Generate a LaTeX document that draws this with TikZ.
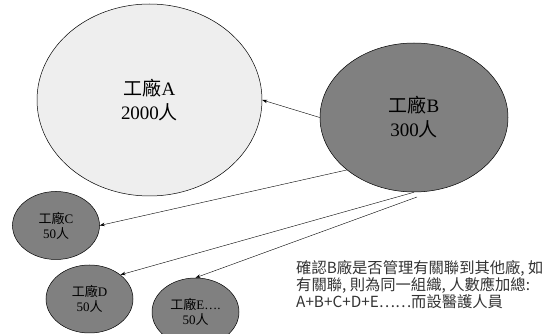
\documentclass[tikz,border=0pt]{standalone}
\usepackage{fontspec}
\setmainfont{Liberation Serif}
\newfontfamily\cjk{Noto Sans CJK TC}
\usetikzlibrary{shapes.geometric,arrows.meta}

\definecolor{paleplant}{RGB}{238,238,238}
\definecolor{plantgray}{RGB}{128,128,128}
\tikzset{
  plant/.style={draw, ellipse, inner sep=0pt, align=center, line width=0.5pt},
  bigplant/.style={plant, font=\fontsize{19}{24}\selectfont},
  smallplant/.style={plant, fill=plantgray, minimum width=87pt, minimum height=68pt,
                     font=\fontsize{13}{15}\selectfont},
  link/.style={-{Stealth[length=5pt,width=3.5pt]}, line width=0.4pt},
}

\begin{document}
\begin{tikzpicture}[x=1pt,y=-1pt]
\useasboundingbox (0,0) rectangle (550,334);
\clip (0,0) rectangle (550,334);

% the plants
\node[bigplant, fill=paleplant, minimum width=225pt, minimum height=192pt] (A) at (149.5,100) {{\cjk 工廠}A\\2000{\cjk 人}};
\node[bigplant, fill=plantgray, minimum width=188pt, minimum height=149pt] (B) at (414,117.5) {{\cjk 工廠}B\\300{\cjk 人}};
\node[smallplant] (C) at (56,225.5) {{\cjk 工廠}C\\50{\cjk 人}};
\node[smallplant] (D) at (89.5,299) {{\cjk 工廠}D\\50{\cjk 人}};
\node[smallplant] (E) at (195.5,312) {{\cjk 工廠}E….\\50{\cjk 人}};

% links from B
\coordinate (Bfoot) at (417,197);
\draw[link] (B.west) -- (A.east);
\draw[link] (B.218) -- (C.east);
\draw[link] (B.south) -- (D.38);
\draw[link] (Bfoot) -- (E.north);

% note
\node[anchor=north west, align=left, text=black!80, inner sep=0pt,
      font=\cjk\fontsize{15.3}{17}\selectfont] (note) at (296,260)
  {確認B廠是否管理有關聯到其他廠, 如\\有關聯, 則為同一組織, 人數應加總:\\A+B+C+D+E……而設醫護人員};
\end{tikzpicture}
\end{document}
